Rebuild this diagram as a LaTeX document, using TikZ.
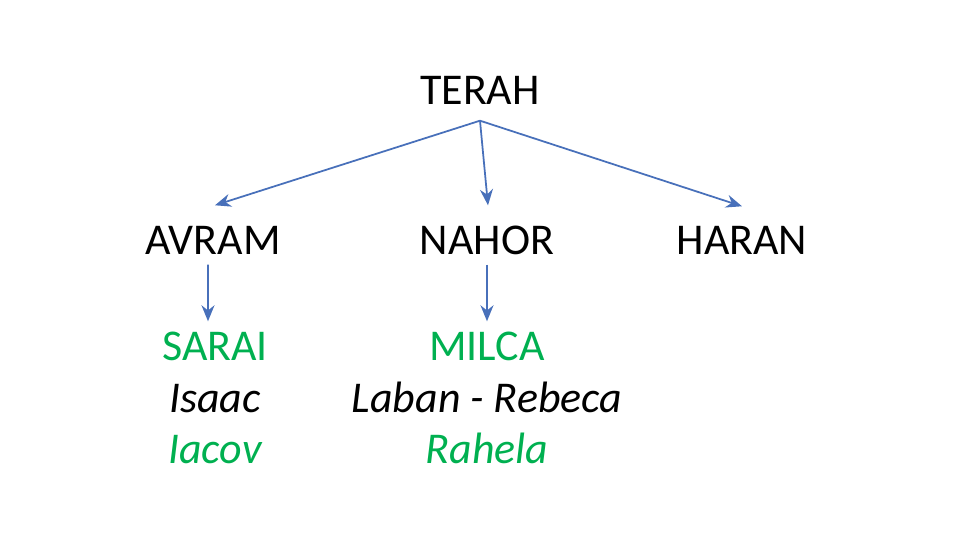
\documentclass[tikz,border=0pt]{standalone}
\usepackage{fontspec}
\setmainfont{Carlito}
\usetikzlibrary{positioning, arrows.meta}
\definecolor{famgreen}{RGB}{0,176,80}
\definecolor{famblue}{RGB}{72,112,186}

\begin{document}
\begin{tikzpicture}[x=1cm,y=1cm,
    person/.style={font=\fontsize{12.5}{15}\selectfont, text height=0.3cm, text depth=0pt, inner sep=0pt},
    wife/.style={person, text=famgreen},
    child/.style={person, font=\fontsize{12.5}{15}\selectfont\itshape},
    link/.style={draw=famblue, line width=0.5pt, -{Stealth[length=1.6mm,width=1.3mm]}},
    node distance=0.2cm]
  \useasboundingbox (0,0) rectangle (9.6,5.4);
  % generations
  \node[person] (terah) at (4.80, 4.50) {TERAH};
  \node[person] (avram) at (2.13, 3.00) {AVRAM};
  \node[person] (nahor) at (4.87, 3.00) {NAHOR};
  \node[person] (haran) at (7.42, 3.00) {HARAN};
  % Avram's line
  \node[wife]  (sarai) at (2.15, 1.94)   {SARAI};
  \node[child] (isaac) [below=of sarai] {Isaac};
  \node[child, text=famgreen] (iacov) [below=of isaac] {Iacov};
  % Nahor's line
  \node[wife]  (milca)  at (4.87, 1.94)   {MILCA};
  \node[child] (laban)  [below=of milca]  {Laban - Rebeca};
  \node[child, text=famgreen] (rahela) [below=of laban] {Rahela};
  % links
  \draw[link] ([yshift=-1.5mm]terah.south) -- ([xshift=0.2mm,yshift=1.9mm]avram.north);
  \draw[link] ([yshift=-1.5mm]terah.south) -- ([xshift=0.1mm,yshift=1.9mm]nahor.north);
  \draw[link] ([yshift=-1.5mm]terah.south) -- ([yshift=1.8mm]haran.north);
  \draw[link] ([xshift=-0.5mm,yshift=-0.9mm]avram.south) -- ([xshift=-0.7mm,yshift=0.9mm]sarai.north);
  \draw[link] ([yshift=-0.9mm]nahor.south) -- ([yshift=0.9mm]milca.north);
\end{tikzpicture}
\end{document}
